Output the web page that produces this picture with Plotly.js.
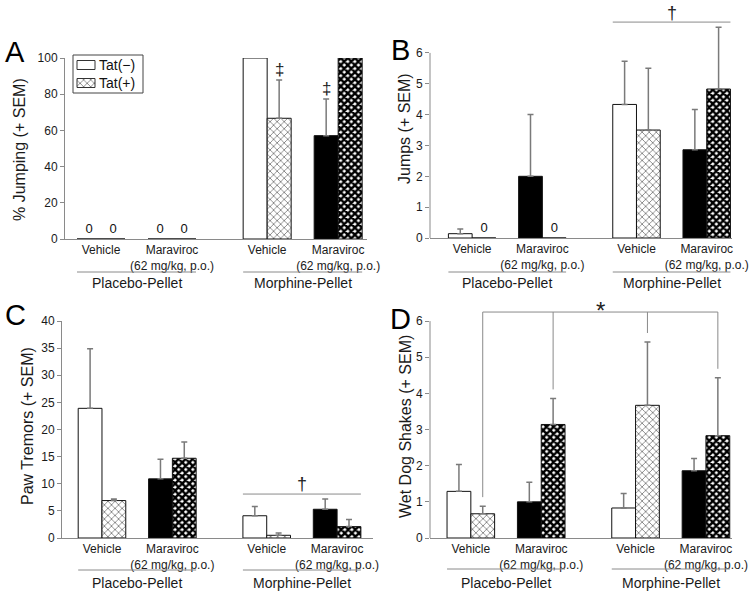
<!DOCTYPE html>
<html><head><meta charset="utf-8">
<script src="https://cdn.plot.ly/plotly-3.0.1.min.js"></script>
<style>html,body{margin:0;padding:0;background:#fff}#chart{width:755px;height:594px}</style>
</head><body><div id="chart"></div>
<script>
// ---------- data ----------
const categories = ['Vehicle', 'Maraviroc<br>(62 mg/kg, p.o.)', 'Vehicle', 'Maraviroc<br>(62 mg/kg, p.o.)'];
const pellets = ['Placebo-Pellet', 'Morphine-Pellet'];
const seriesNames = ['Tat(\u2212)', 'Tat(+)'];

// A: % Jumping
const jumpPctNeg = [0, 0, 100, 57.1];
const jumpPctNegSem = [null, null, null, 20.2];
const jumpPctPos = [0, 0, 66.7, 100];
const jumpPctPosSem = [null, null, 21.1, null];

// B: Jumps
const jumpsNeg = [0.14, 2.0, 4.33, 2.86];
const jumpsNegSem = [0.15, 2.0, 1.40, 1.31];
const jumpsPos = [0, 0, 3.5, 4.83];
const jumpsPosSem = [null, null, 2.0, 2.0];

// C: Paw tremors
const tremorNeg = [23.9, 10.9, 4.1, 5.3];
const tremorNegSem = [11.0, 3.6, 1.7, 1.9];
const tremorPos = [6.9, 14.7, 0.5, 2.1];
const tremorPosSem = [0.3, 3.0, 0.4, 1.3];

// D: Wet dog shakes
const wdsNeg = [1.29, 1.0, 0.83, 1.86];
const wdsNegSem = [0.74, 0.54, 0.40, 0.34];
const wdsPos = [0.67, 3.14, 3.67, 2.83];
const wdsPosSem = [0.21, 0.72, 1.75, 1.60];

// ---------- layout helpers ----------
const W = 755, H = 594;
const fx = p => p / W, fy = p => 1 - p / H;
const groupPos = [0, 1, 2.34, 3.34];
const HALF = 0.169;
const FONT = 'Liberation Sans, Arial, sans-serif';
const AXC = '#8a8a8a';
const LIGHT = {shape: 'x', fg: '#444444', size: 5, solidity: 0.22};
const DARK = {shape: 'x', fg: '#000000', size: 5, solidity: 0.72};

const panels = [
  {letter:'A', n:'', neg:jumpPctNeg, negSem:jumpPctNegSem, pos:jumpPctPos, posSem:jumpPctPosSem,
   xdom:[65,367], ydom:[58,239], xr:[-0.507,3.746], yr:[0,100], dt:20, tmax:100, line:true,
   title:'% Jumping (+ SEM)', tx:19, ty:150, lx:15, ly:52, ulY:272, plY:283},
  {letter:'B', n:'2', neg:jumpsNeg, negSem:jumpsNegSem, pos:jumpsPos, posSem:jumpsPosSem,
   xdom:[430,732], ydom:[19,238], xr:[-0.6,3.7], yr:[0,7.1], dt:1, tmax:6, line:false,
   title:'Jumps (+ SEM)', tx:405, ty:129, lx:400, ly:50, ulY:272, plY:283},
  {letter:'C', n:'3', neg:tremorNeg, negSem:tremorNegSem, pos:tremorPos, posSem:tremorPosSem,
   xdom:[62,373], ydom:[321,538], xr:[-0.568,3.85], yr:[0,40], dt:5, tmax:40, line:true,
   title:'Paw Tremors (+ SEM)', tx:27, ty:426, lx:15, ly:315, ulY:570, plY:583},
  {letter:'D', n:'4', neg:wdsNeg, negSem:wdsNegSem, pos:wdsPos, posSem:wdsPosSem,
   xdom:[430,732], ydom:[303,538], xr:[-0.58,3.71], yr:[0,6.5], dt:1, tmax:6, line:false,
   title:'Wet Dog Shakes (+ SEM)', tx:405, ty:427, lx:400, ly:319, ulY:569, plY:583}
];

const isVeh = i => i % 2 === 0;
const errUp = s => s.map(v => v === null ? NaN : v);
const errDn = s => s.map(v => v === null ? NaN : 0);
const zeroText = vals => vals.map(v => v === 0 ? '0' : '');

const traces = [], shapes = [], annotations = [];
const layout = {
  width: W, height: H, autosize: false,
  margin: {l:0, r:0, t:0, b:0, pad:0},
  paper_bgcolor: '#fff', plot_bgcolor: 'rgba(0,0,0,0)',
  font: {family: FONT, color: '#1a1a1a', size: 12},
  barmode: 'group', bargap: 0.324, bargroupgap: 0,
  showlegend: false,
  shapes: shapes, annotations: annotations
};

panels.forEach(p => {
  const xa = 'x' + p.n, ya = 'y' + p.n;
  const errStyle = {color: '#7a7a7a', thickness: 1.5, width: 3, symmetric: false, type: 'data'};
  traces.push({
    type: 'bar', name: seriesNames[0], x: groupPos, y: p.neg, xaxis: xa, yaxis: ya,
    marker: {color: p.neg.map((v,i) => isVeh(i) ? '#ffffff' : '#000000'), line: {color: '#111', width: 1}},
    error_y: Object.assign({array: errUp(p.negSem), arrayminus: errDn(p.negSem)}, errStyle),
    text: zeroText(p.neg), textposition: 'outside', cliponaxis: false,
    textfont: {size: 13, color: '#111', family: FONT}, hoverinfo: 'skip'
  });
  traces.push({
    type: 'bar', name: seriesNames[1], x: groupPos, y: p.pos, xaxis: xa, yaxis: ya,
    marker: {color: '#ffffff', line: {color: '#111', width: 1},
      pattern: {
        shape: p.pos.map((v,i) => (isVeh(i) ? LIGHT : DARK).shape),
        bgcolor: p.pos.map(() => '#ffffff'),
        fgcolor: p.pos.map((v,i) => (isVeh(i) ? LIGHT : DARK).fg),
        size: p.pos.map((v,i) => (isVeh(i) ? LIGHT : DARK).size),
        solidity: p.pos.map((v,i) => (isVeh(i) ? LIGHT : DARK).solidity)}},
    error_y: Object.assign({array: errUp(p.posSem), arrayminus: errDn(p.posSem)}, errStyle),
    text: zeroText(p.pos), textposition: 'outside', cliponaxis: false,
    textfont: {size: 13, color: '#111', family: FONT}, hoverinfo: 'skip'
  });

  const tickvals = [];
  for (let v = 0; v <= p.tmax + 1e-9; v += p.dt) tickvals.push(+v.toFixed(6));

  layout['xaxis' + p.n] = {
    domain: [fx(p.xdom[0]), fx(p.xdom[1])], range: p.xr, anchor: ya,
    tickmode: 'array', tickvals: groupPos, ticktext: categories, ticks: '',
    showline: true, linecolor: AXC, linewidth: 1, showgrid: false, zeroline: false,
    tickfont: {size: 12, color: '#1a1a1a', family: FONT}, fixedrange: true
  };
  layout['yaxis' + p.n] = {
    domain: [fy(p.ydom[1]), fy(p.ydom[0])], range: p.yr, anchor: xa,
    tickmode: 'array', tickvals: tickvals, ticks: 'outside', ticklen: 4, tickcolor: AXC,
    showline: p.line, linecolor: AXC, linewidth: 1, showgrid: false, zeroline: false,
    tickfont: {size: 12, color: '#1a1a1a', family: FONT}, fixedrange: true
  };
  if (!p.line) {
    shapes.push({type: 'line', xref: xa + ' domain', yref: ya, x0: 0, x1: 0, y0: 0, y1: p.tmax,
                 line: {color: AXC, width: 1}});
  }
  pellets.forEach((name, k) => {
    shapes.push({type: 'line', xref: xa, yref: 'paper',
      x0: groupPos[2*k] - 2*HALF, x1: groupPos[2*k+1] + 2*HALF, y0: fy(p.ulY), y1: fy(p.ulY),
      line: {color: AXC, width: 1}});
    annotations.push({xref: xa, yref: 'paper', x: (groupPos[2*k] + groupPos[2*k+1]) / 2, y: fy(p.plY),
      text: name, showarrow: false, xanchor: 'center', yanchor: 'middle',
      font: {size: 14, color: '#1a1a1a', family: FONT}});
  });
  annotations.push({xref: 'paper', yref: 'paper', x: fx(p.tx), y: fy(p.ty), text: p.title,
    textangle: -90, showarrow: false, xanchor: 'center', yanchor: 'middle',
    font: {size: 16, color: '#1a1a1a', family: FONT}});
  annotations.push({xref: 'paper', yref: 'paper', x: fx(p.lx), y: fy(p.ly), text: p.letter,
    showarrow: false, xanchor: 'center', yanchor: 'middle',
    font: {size: 29, color: '#000', family: FONT}});
});

// ---------- legend (panel A), drawn on a hidden helper axis in pixel units ----------
const LEG = {x0: 73, y0: 55, x1: 143, y1: 93};
layout.xaxis5 = {domain: [fx(LEG.x0), fx(LEG.x1)], range: [0, LEG.x1 - LEG.x0], visible: false, fixedrange: true, anchor: 'y5'};
layout.yaxis5 = {domain: [fy(LEG.y1), fy(LEG.y0)], range: [LEG.y1 - LEG.y0, 0], visible: false, fixedrange: true, anchor: 'x5'};
shapes.push({type: 'rect', xref: 'paper', yref: 'paper', x0: fx(LEG.x0), x1: fx(LEG.x1), y0: fy(LEG.y0), y1: fy(LEG.y1),
  line: {color: '#444', width: 1}, fillcolor: 'rgba(0,0,0,0)'});
shapes.push({type: 'rect', xref: 'x5', yref: 'y5', x0: 4, x1: 22, y0: 5.5, y1: 14.5,
  line: {color: '#333', width: 1}, fillcolor: '#fff'});
traces.push({type: 'scatter', xaxis: 'x5', yaxis: 'y5', x: [4, 22, 22, 4, 4], y: [23.5, 23.5, 32.5, 32.5, 23.5],
  mode: 'lines', fill: 'toself', fillcolor: '#fff', line: {color: '#333', width: 1},
  fillpattern: {shape: LIGHT.shape, fgcolor: LIGHT.fg, bgcolor: '#fff', size: LIGHT.size, solidity: LIGHT.solidity},
  hoverinfo: 'skip', showlegend: false});
annotations.push({xref: 'paper', yref: 'paper', x: fx(97), y: fy(74), text: seriesNames.join('<br>'),
  showarrow: false, xanchor: 'left', yanchor: 'middle', align: 'left',
  font: {size: 14, color: '#111', family: FONT}});

// ---------- significance marks ----------
[[2, +1, jumpPctPos[2] + jumpPctPosSem[2]], [3, -1, jumpPctNeg[3] + jumpPctNegSem[3]]].forEach(([g, s, top]) => {
  annotations.push({xref: 'x', yref: 'y', x: groupPos[g] + s*HALF, y: top, text: '\u2021',
    showarrow: false, xanchor: 'center', yanchor: 'middle', yshift: 11,
    font: {size: 17, color: '#222', family: FONT}});
});
const bSigY = 7.0;
shapes.push({type: 'line', xref: 'x2', yref: 'y2', x0: groupPos[2] - 2*HALF, x1: groupPos[3] + 2*HALF,
  y0: bSigY, y1: bSigY, line: {color: AXC, width: 1}});
annotations.push({xref: 'x2', yref: 'y2', x: (groupPos[2] + groupPos[3]) / 2, y: bSigY, text: '\u2020',
  showarrow: false, xanchor: 'center', yanchor: 'middle', yshift: 9, font: {size: 18, color: '#222', family: FONT}});
const cSigY = 8.1;
shapes.push({type: 'line', xref: 'x3', yref: 'y3', x0: groupPos[2] - 2*HALF, x1: groupPos[3] + 2*HALF,
  y0: cSigY, y1: cSigY, line: {color: AXC, width: 1}});
annotations.push({xref: 'x3', yref: 'y3', x: (groupPos[2] + groupPos[3]) / 2, y: cSigY, text: '\u2020',
  showarrow: false, xanchor: 'center', yanchor: 'middle', yshift: 10, font: {size: 18, color: '#222', family: FONT}});
const dSigY = 6.25;
shapes.push({type: 'line', xref: 'x4', yref: 'y4', x0: groupPos[0] + HALF, x1: groupPos[3] + HALF,
  y0: dSigY, y1: dSigY, line: {color: AXC, width: 1}});
groupPos.forEach((g, i) => {
  shapes.push({type: 'line', xref: 'x4', yref: 'y4', x0: g + HALF, x1: g + HALF,
    y0: wdsPos[i] + wdsPosSem[i] + 0.25, y1: dSigY, line: {color: AXC, width: 1}});
});
annotations.push({xref: 'x4', yref: 'y4', x: (groupPos[0] + groupPos[3]) / 2 + HALF, y: dSigY, text: '*',
  showarrow: false, xanchor: 'center', yanchor: 'middle', yshift: 2, font: {size: 24, color: '#222', family: FONT}});

Plotly.newPlot('chart', traces, layout, {staticPlot: true, displayModeBar: false});
</script>
</body></html>
